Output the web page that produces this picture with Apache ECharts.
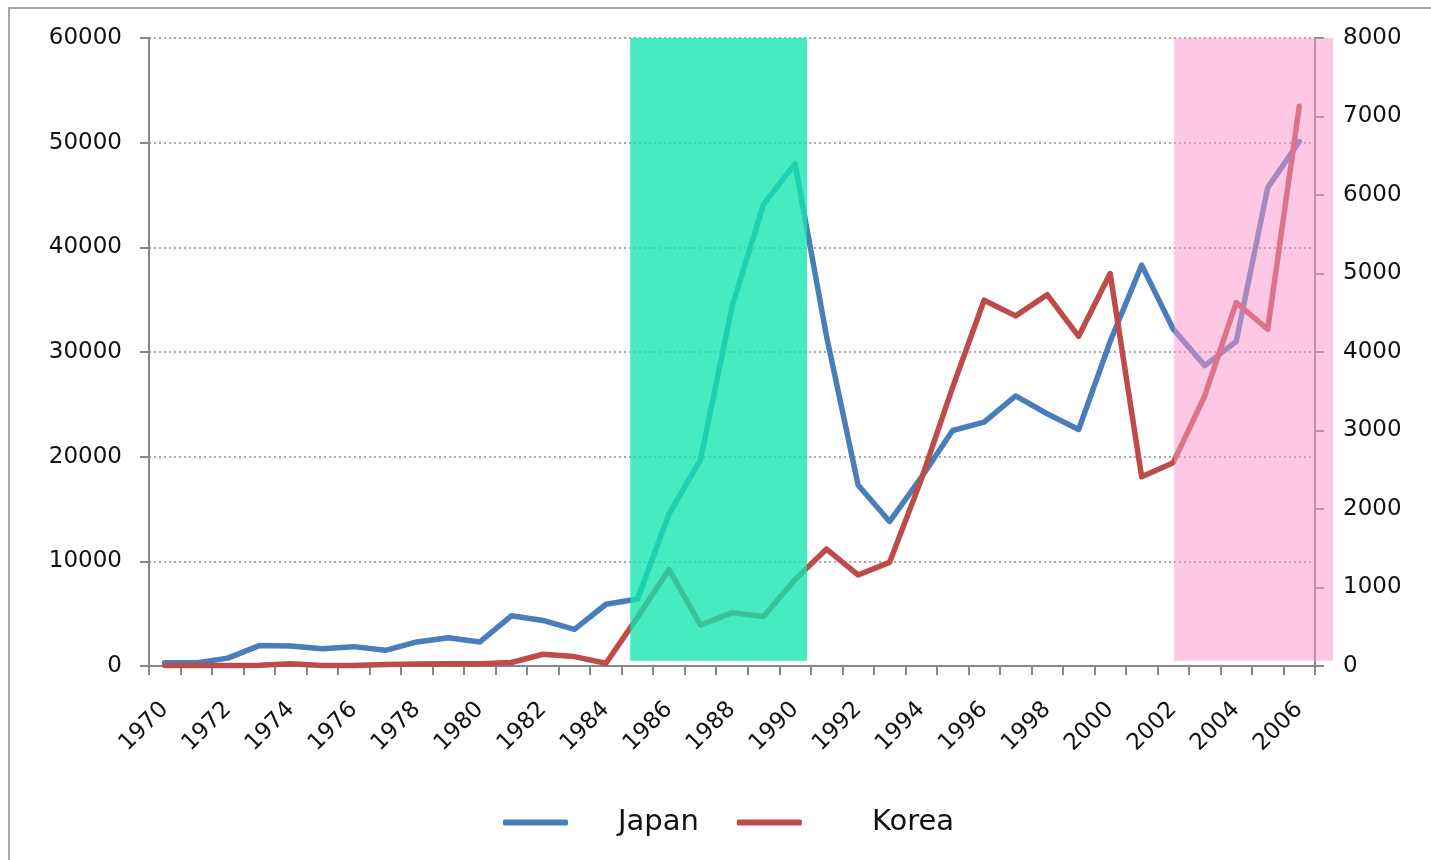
<!DOCTYPE html>
<html>
<head>
<meta charset="utf-8">
<script src="https://cdn.jsdelivr.net/npm/echarts@6/dist/echarts.min.js"></script>
<style>
html,body{margin:0;padding:0;background:#fff;}
#chart{width:1431px;height:860px;}
</style>
</head>
<body>
<div id="chart"></div>
<script>
const years = ['1970','1971','1972','1973','1974','1975','1976','1977','1978','1979','1980','1981','1982','1983','1984','1985','1986','1987','1988','1989','1990','1991','1992','1993','1994','1995','1996','1997','1998','1999','2000','2001','2002','2003','2004','2005','2006'];
const japan = [300,300,750,1950,1900,1650,1850,1500,2300,2700,2300,4800,4350,3500,5900,6400,14500,19700,34300,44100,48000,31500,17300,13800,18000,22500,23300,25800,24100,22600,31000,38300,32200,28700,31000,45700,50100];
const korea = [5,5,5,10,30,5,5,20,25,30,30,45,150,120,35,620,1230,520,680,630,1100,1490,1160,1320,2370,3550,4660,4460,4730,4200,5000,2410,2590,3440,4630,4290,7130];
const greenBand = [1984.77, 1990.38];
const pinkBand = [2002.03, 2007.07];
const bandBottom = 500;

const chart = echarts.init(document.getElementById('chart'), null, {renderer:'canvas'});
const font = 'DejaVu Sans';
const axisGray = '#878787';
const plain = v => String(v);

chart.setOption({
  animation:false,
  backgroundColor:'#ffffff',
  graphic:[{type:'rect', shape:{x:9,y:8,width:1440,height:870}, style:{fill:'none', stroke:'#8c8c8c', lineWidth:1.5}, z:-1, silent:true}],
  grid:[
    {left:149, right:116, top:38, bottom:194},
    {left:149, right:98, top:38, bottom:194}
  ],
  legend:{
    left:498, top:803,
    itemWidth:65, itemHeight:6, itemGap:38,
    icon:'roundRect',
    textStyle:{fontFamily:font, fontSize:29, color:'#111'},
    data:[
      {name:'Japan', textStyle:{padding:[0,0,0,45]}},
      {name:'Korea', textStyle:{padding:[0,0,0,65]}}
    ]
  },
  xAxis:[
    {
      type:'category', data:years, gridIndex:0, boundaryGap:true,
      axisLine:{lineStyle:{color:axisGray, width:2}},
      axisTick:{show:true, interval:0, length:9, lineStyle:{color:axisGray, width:2}},
      axisLabel:{interval:1, rotate:45, margin:40, fontFamily:font, fontSize:23, color:'#111'}
    },
    {type:'value', gridIndex:1, min:1969.5, max:pinkBand[1], show:false}
  ],
  yAxis:[
    {
      type:'value', gridIndex:0, min:0, max:60000, interval:10000,
      axisLine:{show:true, lineStyle:{color:axisGray, width:2}},
      axisTick:{show:true, length:9, lineStyle:{color:axisGray, width:2}},
      axisLabel:{margin:27, fontFamily:font, fontSize:23, color:'#111', formatter:plain},
      splitLine:{show:true, lineStyle:{color:'#8a8a8a', width:1.5, type:[2,3]}}
    },
    {
      type:'value', gridIndex:0, position:'right', min:0, max:8000, interval:1000,
      axisLine:{show:true, lineStyle:{color:axisGray, width:2}},
      axisTick:{show:true, length:9, lineStyle:{color:axisGray, width:2}},
      axisLabel:{margin:28, fontFamily:font, fontSize:23, color:'#111', formatter:plain},
      splitLine:{show:false}
    },
    {type:'value', gridIndex:1, min:0, max:60000, show:false}
  ],
  series:[
    {
      name:'Japan', type:'line', data:japan, xAxisIndex:0, yAxisIndex:0,
      symbol:'none', z:2,
      lineStyle:{color:'#4a7ebb', width:5.5, cap:'round', join:'round'},
      itemStyle:{color:'#4a7ebb'}
    },
    {
      name:'Korea', type:'line', data:korea, xAxisIndex:0, yAxisIndex:1,
      symbol:'none', z:2,
      lineStyle:{color:'#be4b48', width:5.5, cap:'round', join:'round'},
      itemStyle:{color:'#be4b48'}
    },
    {
      name:'bands', type:'line', data:[], xAxisIndex:1, yAxisIndex:2, z:10,
      symbol:'none', silent:true,
      markArea:{
        z:10, silent:true,
        data:[
          [{xAxis:greenBand[0], yAxis:bandBottom, itemStyle:{color:'rgba(18,229,173,0.78)'}}, {xAxis:greenBand[1], yAxis:60000}],
          [{xAxis:pinkBand[0], yAxis:bandBottom, itemStyle:{color:'rgba(249,149,201,0.52)'}}, {xAxis:pinkBand[1], yAxis:60000}]
        ]
      }
    }
  ]
});
</script>
</body>
</html>
